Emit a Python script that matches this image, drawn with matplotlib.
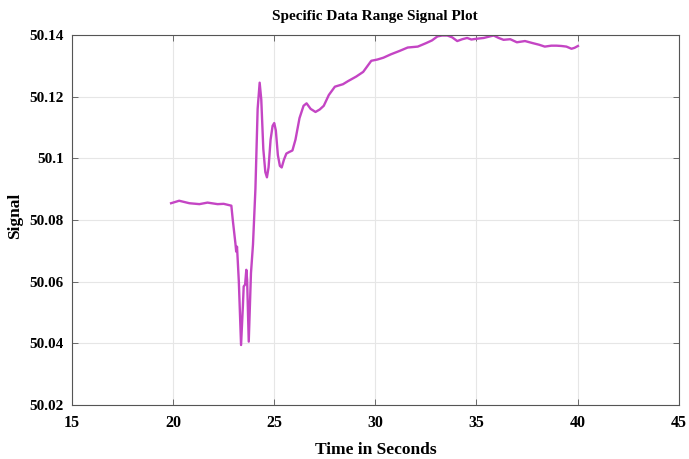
import matplotlib
matplotlib.use("Agg")
import matplotlib.pyplot as plt

time_s = [19.9, 20.3, 20.8, 21.3, 21.7, 22.2, 22.5, 22.88, 22.95, 23.08, 23.12, 23.16,
          23.25, 23.36, 23.45, 23.49, 23.56, 23.62, 23.66, 23.74, 23.85, 23.95, 24.07,
          24.18, 24.28, 24.36, 24.46, 24.56, 24.64, 24.72, 24.82, 24.92, 25.0, 25.08,
          25.18, 25.28, 25.37, 25.48, 25.6, 25.74, 25.9, 26.05, 26.25, 26.45, 26.6,
          26.8, 27.04, 27.25, 27.45, 27.7, 28.0, 28.4, 28.65, 29.06, 29.4, 29.8, 30.1,
          30.4, 30.77, 31.2, 31.6, 32.1, 32.5, 32.8, 33.07, 33.3, 33.56, 33.8, 34.05,
          34.3, 34.54, 34.75, 34.95, 35.36, 35.6, 35.85, 36.1, 36.34, 36.67, 37.0,
          37.4, 37.8, 38.1, 38.38, 38.7, 38.96, 39.2, 39.45, 39.7, 39.85, 40.02]
signal = [50.0854, 50.0862, 50.0854, 50.0851, 50.0856, 50.0851, 50.0852, 50.0846,
          50.0800, 50.0724, 50.0697, 50.0713, 50.0600, 50.0394, 50.0520, 50.0584,
          50.0590, 50.0638, 50.0605, 50.0405, 50.0627, 50.0720, 50.0900,
          50.1160, 50.1245, 50.1190, 50.1030, 50.0955, 50.0938, 50.0970, 50.1060,
          50.1105, 50.1114, 50.1090, 50.1010, 50.0975, 50.0970, 50.0995, 50.1015,
          50.1020, 50.1025, 50.1060, 50.1130, 50.1170, 50.1178, 50.1160, 50.1150,
          50.1158, 50.1170, 50.1205, 50.1232, 50.1240, 50.1250, 50.1265, 50.1280,
          50.1316, 50.1320, 50.1326, 50.1337, 50.1348, 50.1359, 50.1362, 50.1373,
          50.1382, 50.1395, 50.1398, 50.1398, 50.1392, 50.1380, 50.1386, 50.1390,
          50.1385, 50.1387, 50.1390, 50.1394, 50.1398, 50.1390, 50.1384, 50.1386,
          50.1376, 50.1380, 50.1373, 50.1368, 50.1362, 50.1365, 50.1365, 50.1364,
          50.1362, 50.1355, 50.1358, 50.1364]

xticks = [15, 20, 25, 30, 35, 40, 45]
yticks = [50.02, 50.04, 50.06, 50.08, 50.10, 50.12, 50.14]
ytick_labels = ["50.02", "50.04", "50.06", "50.08", "50.1", "50.12", "50.14"]

font = {"family": "Liberation Serif", "weight": "bold"}

fig = plt.figure(figsize=(6.89, 4.59), dpi=100)
ax = fig.add_axes([0.1045, 0.118, 0.8805, 0.806])
ax.plot(time_s, signal, color="#c445c4", linewidth=1.7)

ax.set_xlim(15, 45)
ax.set_ylim(50.02, 50.14)
ax.set_xticks(xticks)
ax.set_xticklabels([str(t) for t in xticks], fontdict=font, fontsize=11.5)
ax.set_yticks(yticks)
ax.set_yticklabels(ytick_labels, fontdict=font, fontsize=11)
ax.tick_params(direction="in", top=True, right=True, length=4, width=0.6,
               color="#555555", pad=6)
ax.tick_params(axis="x", pad=7)
ax.grid(True, color="#e6e6e6", linewidth=0.8)
for s in ax.spines.values():
    s.set_color("#555555")
    s.set_linewidth(0.8)

ax.set_title("Specific Data Range Signal Plot", fontdict=font, fontsize=11, pad=11)
ax.set_xlabel("Time in Seconds", fontdict=font, fontsize=12.5, labelpad=8)
ax.set_ylabel("Signal", fontdict=font, fontsize=12.5)
ax.yaxis.set_label_coords(-0.08, 0.51)

fig.savefig("out.png", dpi=100)
